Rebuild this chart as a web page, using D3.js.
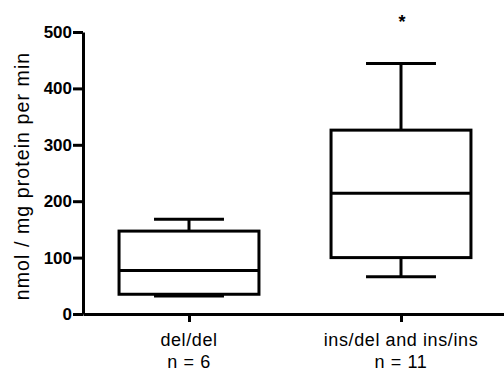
<!DOCTYPE html>
<html>
<head>
<meta charset="utf-8">
<script src="https://cdn.jsdelivr.net/npm/d3@7"></script>
<style>
  body { margin: 0; background: #fff; }
  svg { font-family: "Liberation Sans", Arial, Helvetica, sans-serif; }
</style>
</head>
<body>
<div id="chart"></div>
<script>
// Data
const groups = ["del/del", "ins/del and ins/ins"];
const nLabels = ["n = 6", "n = 11"];
const mins = [32, 66];
const q1s = [35, 100];
const medians = [77, 214];
const q3s = [147, 326];
const maxs = [168, 444];
const yTicks = [0, 100, 200, 300, 400, 500];
const sigMarks = ["", "*"];

const width = 504, height = 371;
const margin = {top: 32, right: -3, bottom: 57, left: 83};

const svg = d3.select("#chart")
  .append("svg")
  .attr("width", width)
  .attr("height", height);

// scales
const x = d3.scalePoint()
  .domain(groups)
  .range([margin.left, width - margin.right])
  .padding(0.5);
const y = d3.scaleLinear()
  .domain([0, 500])
  .range([height - margin.bottom, margin.top]);

const boxW = x.step() * 0.66;
const capW = boxW / 2;

// Y axis
const yAxis = svg.append("g")
  .attr("transform", `translate(${margin.left},0)`)
  .call(d3.axisLeft(y).tickValues(yTicks).tickSize(10).tickPadding(1).tickSizeOuter(0));
yAxis.selectAll("path, line").attr("stroke", "#000").attr("stroke-width", 3);
yAxis.selectAll("text")
  .style("font-size", "17px")
  .style("font-weight", "bold")
  .attr("fill", "#000");

// X axis
const xAxis = svg.append("g")
  .attr("transform", `translate(0,${y(0)})`)
  .call(d3.axisBottom(x).tickSize(8).tickSizeOuter(0).tickFormat(""));
xAxis.selectAll("path, line").attr("stroke", "#000").attr("stroke-width", 3);

// category labels (two lines)
groups.forEach((g, i) => {
  const t = svg.append("text")
    .attr("x", x(g))
    .attr("text-anchor", "middle")
    .style("font-size", "18px")
    .style("letter-spacing", "0.6px")
    .attr("fill", "#000");
  t.append("tspan").attr("x", x(g)).attr("y", 346).text(g);
  t.append("tspan").attr("x", x(g)).attr("y", 368).text(nLabels[i]);
});

// y label
svg.append("text")
  .attr("transform", `translate(29,176) rotate(-90)`)
  .attr("text-anchor", "middle")
  .style("font-size", "19.5px")
  .style("letter-spacing", "1.1px")
  .attr("fill", "#000")
  .text("nmol / mg protein per min");

// boxes
const boxes = svg.append("g")
  .attr("stroke", "#000")
  .attr("stroke-width", 3)
  .attr("fill", "none");

groups.forEach((g, i) => {
  const cx = x(g);
  // whiskers
  boxes.append("line")
    .attr("x1", cx).attr("x2", cx)
    .attr("y1", y(maxs[i])).attr("y2", y(q3s[i]));
  boxes.append("line")
    .attr("x1", cx).attr("x2", cx)
    .attr("y1", y(q1s[i])).attr("y2", y(mins[i]));
  // caps
  boxes.append("line")
    .attr("x1", cx - capW / 2).attr("x2", cx + capW / 2)
    .attr("y1", y(maxs[i])).attr("y2", y(maxs[i]));
  boxes.append("line")
    .attr("x1", cx - capW / 2).attr("x2", cx + capW / 2)
    .attr("y1", y(mins[i])).attr("y2", y(mins[i]));
  // box
  boxes.append("rect")
    .attr("x", cx - boxW / 2)
    .attr("y", y(q3s[i]))
    .attr("width", boxW)
    .attr("height", y(q1s[i]) - y(q3s[i]))
    .attr("fill", "#fff");
  // median
  boxes.append("line")
    .attr("x1", cx - boxW / 2).attr("x2", cx + boxW / 2)
    .attr("y1", y(medians[i])).attr("y2", y(medians[i]));
  // significance mark
  if (sigMarks[i]) {
    svg.append("text")
      .attr("x", cx + 1)
      .attr("y", y(500) - 4)
      .attr("text-anchor", "middle")
      .style("font-size", "18px")
      .style("font-weight", "bold")
      .attr("fill", "#000")
      .text(sigMarks[i]);
  }
});
</script>
</body>
</html>
